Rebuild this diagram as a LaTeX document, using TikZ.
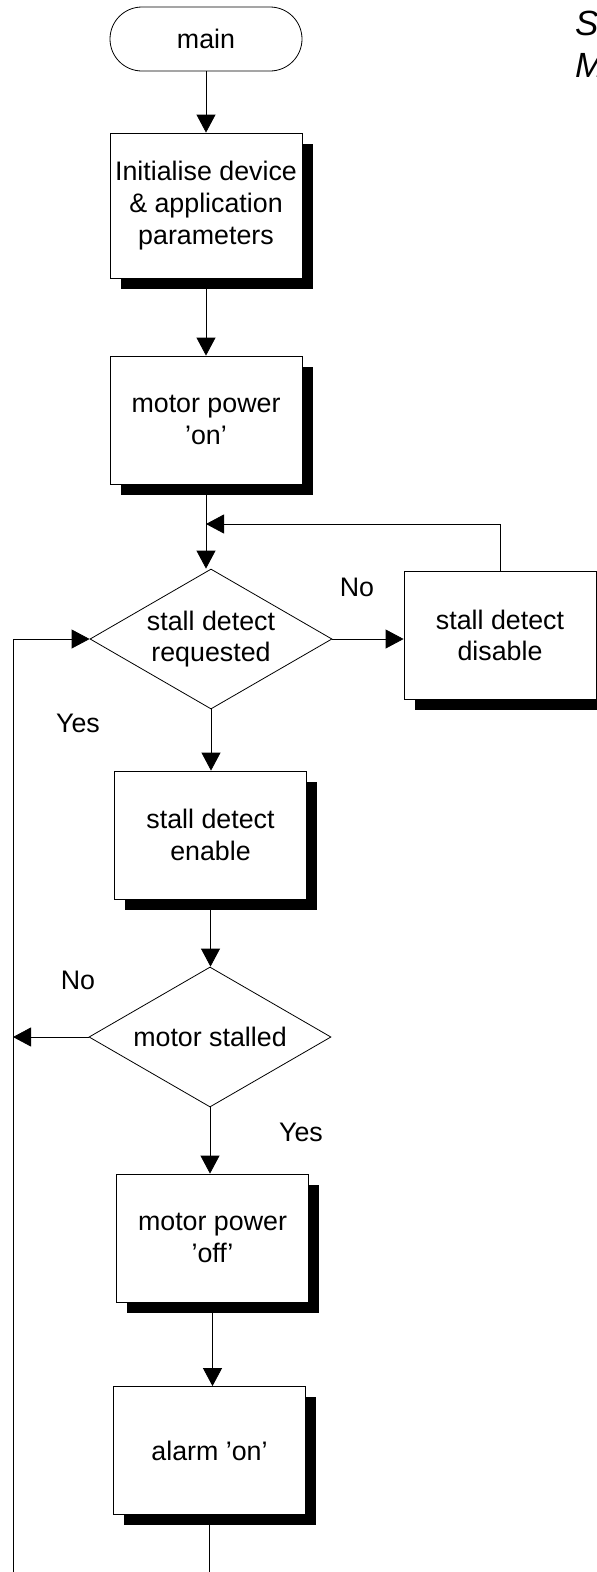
\documentclass[tikz,border=0pt]{standalone}
\usepackage{fontspec}
\setmainfont{Liberation Sans}
\usetikzlibrary{arrows.meta,shapes.geometric,shadows}
\begin{document}
\begin{tikzpicture}[x=1pt,y=-1pt,
  every node/.style={font=\fontsize{26.8}{31.7}\selectfont, align=center, inner sep=0pt},
  proc/.style={draw, fill=white, line width=0.8pt, minimum width=192pt, minimum height=128pt,
    general shadow={fill=black, shadow xshift=10.5pt, shadow yshift=-10.5pt}},
  term/.style={draw, fill=white, line width=0.8pt, rounded corners=32pt, minimum width=192pt, minimum height=64pt},
  dec/.style={draw, fill=white, shape=diamond, aspect=1.73, minimum width=242pt, minimum height=140pt, line width=0.8pt},
  conn/.style={draw, line width=0.8pt, -{Triangle[length=18pt,width=19pt]}},
  plain/.style={draw, line width=0.8pt},
  big/.style={anchor=base west, font=\fontsize{35}{42}\selectfont\itshape}
]
\useasboundingbox (0,0) rectangle (597,1572);
\clip (0,0) rectangle (597,1572);

\node[term] (main) at (206,39) {main};
\node[proc, minimum height=145pt] (init) at (206,205.5) {Initialise device\\\& application\\parameters};
\node[proc] (mon) at (206,420) {motor power\\’on’};
\node[dec] (req) at (211,639) {stall detect\\requested};
\node[proc] (dis) at (500,635.5) {stall detect\\disable};
\node[proc] (en) at (210.5,835) {stall detect\\enable};
\node[dec] (stl) at (210,1037) {motor stalled};
\node[proc] (moff) at (212.5,1238) {motor power\\’off’};
\node[proc] (al) at (209.5,1450.5) {alarm ’on’};

\node (no1) at (357,587) {No};
\node (yes1) at (78,723) {Yes};
\node (no2) at (78,980) {No};
\node (yes2) at (301,1132) {Yes};

\node[big] (s) at (575,35) {S};
\node[big] (m) at (575,77) {M};

\coordinate (jn) at (206,524);
\coordinate (lb) at (13,1572);
\coordinate (bb) at (209.5,1572);

\draw[conn] (main) -- (init);
\draw[conn] (init) -- (mon);
\draw[conn] (mon.south) -- (mon.south |- req.north);
\draw[conn] (dis.north) -- (dis.north |- jn) -- (jn);
\draw[conn] (req.east) -- (req.east -| dis.west);
\draw[conn] (req.south) -- (req.south |- en.north);
\draw[conn] (en.south) -- (en.south |- stl.north);
\draw[conn] (stl.west) -- (stl.west -| lb);
\draw[conn] (lb) -- (lb |- req.west) -- (req.west);
\draw[conn] (stl.south) -- (stl.south |- moff.north);
\draw[conn] (moff.south) -- (moff.south |- al.north);
\draw[plain] (al.south) -- (bb);
\end{tikzpicture}
\end{document}
